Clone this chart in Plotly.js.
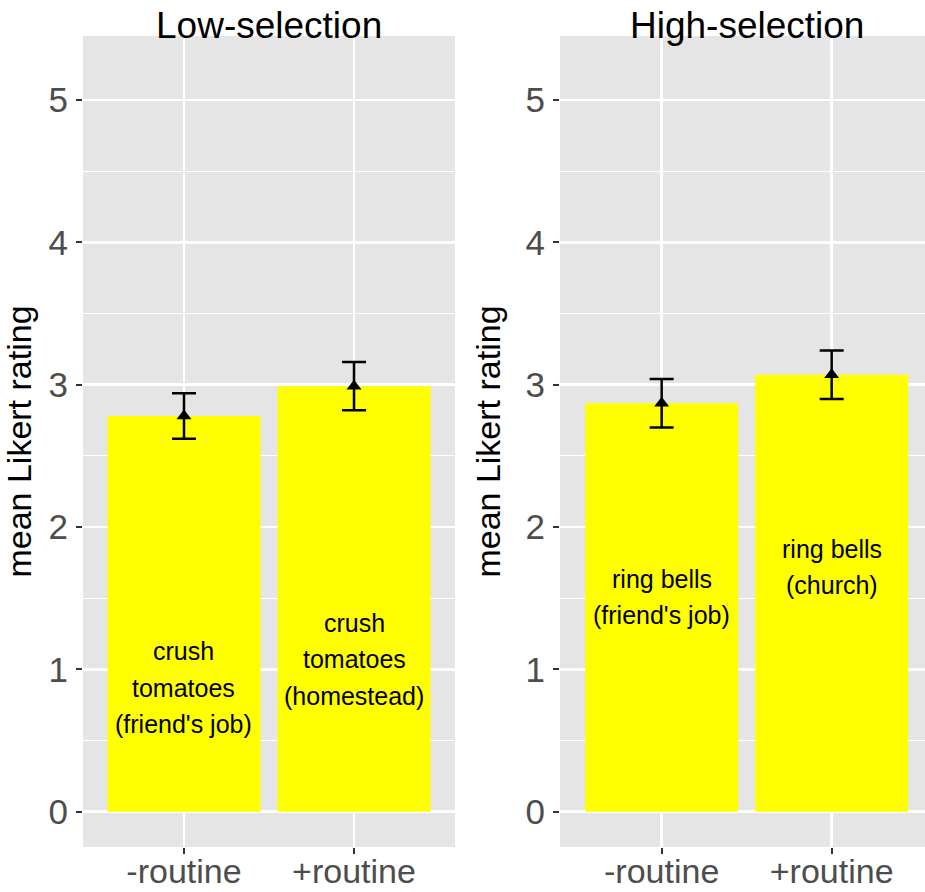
<!DOCTYPE html>
<html>
<head>
<meta charset="utf-8">
<script src="https://cdn.plot.ly/plotly-3.0.1.min.js"></script>
<style>html,body{margin:0;padding:0;background:#fff;}#chart{width:925px;height:892px;}</style>
</head>
<body>
<div id="chart"></div>
<script>
// ---- data ----
const categories = ["-routine", "+routine"];
const categoryPos = [1, 2];
const panelTitles = ["Low-selection", "High-selection"];

const lowMeans = [2.78, 2.99];
const lowErr = [0.16, 0.17];
const highMeans = [2.87, 3.07];
const highErr = [0.17, 0.17];

const lowLabels = [["crush", "tomatoes", "(friend's job)"], ["crush", "tomatoes", "(homestead)"]];
const highLabels = [["ring bells", "(friend's job)"], ["ring bells", "(church)"]];
const lowLabelY = [0.87, 1.07];
const highLabelY = [1.51, 1.72];

const yTicks = [0, 1, 2, 3, 4, 5];
const yTitle = "mean Likert rating";

// ---- styling ----
const FONT = '"Liberation Sans", Arial, sans-serif';
const W = 925, H = 892;
const panelTop = 36, panelBottom = 847;
const yDomain = [1 - panelBottom / H, 1 - panelTop / H];
const xDom1 = [83 / W, 455 / W];
const xDom2 = [560 / W, 1];

function barTrace(means, xa, ya) {
  return {type: 'bar', x: categoryPos, y: means, width: 0.9, xaxis: xa, yaxis: ya,
    marker: {color: '#FFFF00', line: {width: 0}}, hoverinfo: 'skip', showlegend: false};
}
function errTrace(means, err, xa, ya) {
  return {type: 'scatter', mode: 'markers', x: categoryPos, y: means, xaxis: xa, yaxis: ya,
    marker: {symbol: 'triangle-up', size: 13, color: '#000'},
    error_y: {type: 'data', array: err, symmetric: true, color: '#000', thickness: 2.5, width: 12},
    hoverinfo: 'skip', showlegend: false};
}

function xAxis(domain, range, anchor) {
  return {domain: domain, range: range, anchor: anchor, fixedrange: true,
    tickmode: 'array', tickvals: categoryPos, ticktext: categories,
    ticks: 'outside', ticklen: 6, tickwidth: 2, tickcolor: '#333333',
    ticklabelstandoff: -12,
    tickfont: {family: FONT, size: 34, color: '#4D4D4D'},
    showgrid: true, gridcolor: '#FFFFFF', gridwidth: 2.5,
    zeroline: false, showline: false, automargin: false};
}
function yAxis(anchor) {
  return {domain: yDomain, range: [-0.248, 5.45], anchor: anchor, fixedrange: true,
    tickmode: 'array', tickvals: yTicks,
    ticks: 'outside', ticklen: 6, tickwidth: 2, tickcolor: '#333333',
    ticklabelstandoff: 1,
    tickfont: {family: FONT, size: 35, color: '#4D4D4D'},
    showgrid: true, gridcolor: '#FFFFFF', gridwidth: 2.5,
    minor: {tickmode: 'linear', tick0: 0, dtick: 0.5, showgrid: true, gridcolor: '#FFFFFF', gridwidth: 1.2, ticks: ''},
    zeroline: false, showline: false, automargin: false,
    title: {text: yTitle, standoff: 14, font: {family: FONT, size: 34, color: '#000'}}};
}

const annotations = [];
function addLabels(labels, ys, xref, yref) {
  labels.forEach((lines, i) => {
    const mid = (lines.length - 1) / 2;
    lines.forEach((t, j) => {
      annotations.push({xref: xref, yref: yref, x: categoryPos[i], y: ys[i], text: t,
        showarrow: false, xanchor: 'center', yanchor: 'middle', yshift: (mid - j) * 36.5,
        font: {family: FONT, size: 25, color: '#000'}});
    });
  });
}
addLabels(lowLabels, lowLabelY, 'x', 'y');
addLabels(highLabels, highLabelY, 'x2', 'y2');

annotations.push({xref: 'paper', yref: 'paper', x: (83 + 455) / 2 / W, y: 1 - 25 / H, text: panelTitles[0],
  showarrow: false, xanchor: 'center', yanchor: 'middle', font: {family: FONT, size: 37, color: '#000'}});
annotations.push({xref: 'paper', yref: 'paper', x: 747 / W, y: 1 - 25 / H, text: panelTitles[1],
  showarrow: false, xanchor: 'center', yanchor: 'middle', font: {family: FONT, size: 37, color: '#000'}});

const data = [
  barTrace(lowMeans, 'x', 'y'), errTrace(lowMeans, lowErr, 'x', 'y'),
  barTrace(highMeans, 'x2', 'y2'), errTrace(highMeans, highErr, 'x2', 'y2')
];

const layout = {
  width: W, height: H,
  margin: {l: 0, r: 0, t: 0, b: 0, pad: 0},
  paper_bgcolor: '#FFFFFF', plot_bgcolor: '#E5E5E5',
  showlegend: false,
  xaxis: xAxis(xDom1, [0.406, 2.594], 'y'),
  yaxis: yAxis('x'),
  xaxis2: xAxis(xDom2, [0.402, 2.549], 'y2'),
  yaxis2: yAxis('x2'),
  annotations: annotations
};

Plotly.newPlot('chart', data, layout, {displayModeBar: false, staticPlot: true});
</script>
</body>
</html>
